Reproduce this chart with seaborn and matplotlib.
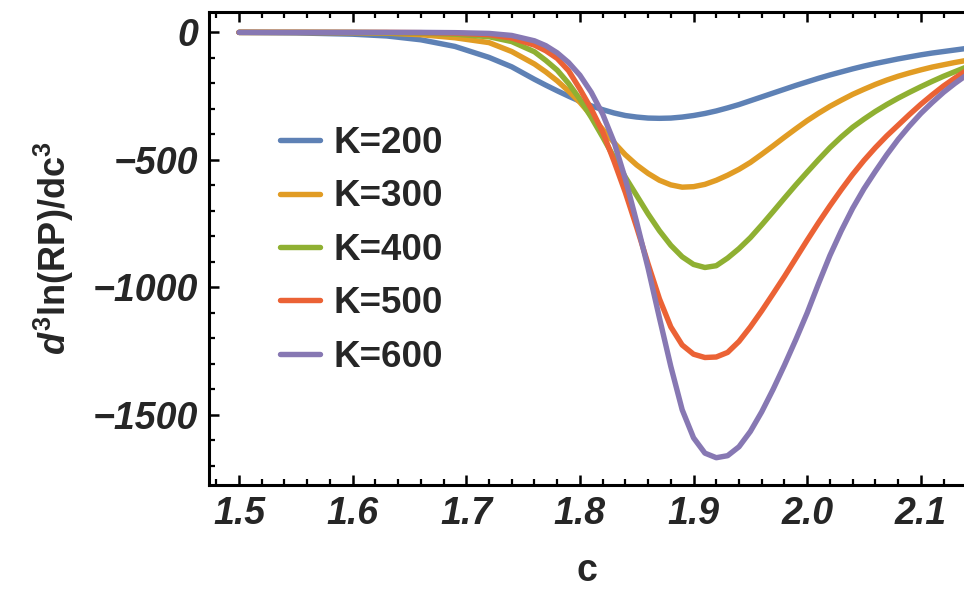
'''Third derivative of ln(RP) against c for several K values (Mathematica style look)'''

#====================================IMPORTS==================================
import pandas as pd
import matplotlib
matplotlib.use("Agg")
import matplotlib.pyplot as plt
from matplotlib.ticker import MultipleLocator
import seaborn as sns
#=================================================================================

#c values the curves were read at (denser near the dip)
c_vals = [1.50, 1.55, 1.60, 1.63, 1.66, 1.69, 1.72, 1.74, 1.76,
          1.77, 1.78, 1.79, 1.80, 1.81, 1.82, 1.83, 1.84, 1.85, 1.86, 1.87, 1.88,
          1.89, 1.90, 1.91, 1.92, 1.93, 1.94, 1.95, 1.96, 1.97, 1.98, 1.99, 2.00,
          2.01, 2.02, 2.03, 2.04, 2.05, 2.06, 2.07, 2.08, 2.09, 2.10, 2.11, 2.12,
          2.13, 2.14]

#d3 ln(RP)/dc3 for each K
k200 = [0, -2, -7, -14, -29, -55, -98, -135, -184,
        -207, -229, -250, -270, -288, -303, -316, -326, -332, -336, -337, -336,
        -332, -326, -318, -308, -296, -283, -268, -253, -238, -223, -208, -194,
        -180, -167, -155, -143, -132, -122, -113, -104, -96, -88, -81, -75,
        -69, -63]
k300 = [0, 0, -1, -3, -9, -21, -40, -75, -124,
        -155, -190, -230, -274, -326, -380, -432, -480, -520, -553, -580, -598,
        -607, -605, -596, -580, -560, -537, -510, -478, -445, -411, -378, -346,
        -317, -290, -266, -243, -223, -204, -187, -172, -159, -147, -136, -127,
        -118, -110]
k400 = [0, 0, 0, -1, -3, -7, -17, -36, -76,
        -110, -148, -200, -262, -333, -410, -490, -568, -640, -712, -778, -835,
        -880, -910, -922, -915, -885, -848, -805, -755, -703, -650, -598, -548,
        -499, -452, -410, -372, -340, -310, -283, -258, -235, -213, -192, -172,
        -154, -136]
k500 = [0, 0, 0, 0, -1, -3, -9, -22, -50,
        -72, -102, -150, -222, -300, -390, -505, -628, -765, -908, -1045, -1155,
        -1226, -1262, -1275, -1273, -1255, -1212, -1155, -1092, -1025, -957, -886, -815,
        -746, -680, -617, -557, -502, -452, -406, -364, -322, -282, -245, -210,
        -179, -150]
k600 = [0, 0, 0, 0, 0, -1, -4, -12, -33,
        -52, -80, -118, -168, -235, -320, -430, -575, -745, -925, -1120, -1310,
        -1480, -1590, -1650, -1668, -1660, -1625, -1565, -1488, -1400, -1305, -1205, -1100,
        -985, -875, -778, -690, -613, -545, -480, -420, -367, -318, -275, -235,
        -200, -168]

k_labels = ['K=200', 'K=300', 'K=400', 'K=500', 'K=600']
#Mathematica default plot colours
k_colors = ['#5E81B5', '#E19C24', '#8FB032', '#EB6235', '#8778B3']

x_ticks = [1.5, 1.6, 1.7, 1.8, 1.9, 2.0, 2.1]
x_tick_labels = ['1.5', '1.6', '1.7', '1.8', '1.9', '2.0', '2.1']
y_ticks = [0, -500, -1000, -1500]
y_tick_labels = ['0', '\u2212500', '\u22121000', '\u22121500']

#===================================== FUNCTIONS =================================

def build_frame():
    #long form dataframe so seaborn can colour by K
    rows = []
    for label, vals in zip(k_labels, [k200, k300, k400, k500, k600]):
        rows.append(pd.DataFrame({'c': c_vals, 'val': vals, 'K': label}))
    return pd.concat(rows, ignore_index=True)

#=================================================================================

def make_plot(df):
    sns.set_theme(style="ticks")
    #fonts have to go after set_theme
    plt.rcParams['font.family'] = ['Liberation Sans', 'DejaVu Sans']
    plt.rcParams['mathtext.fontset'] = 'custom'
    plt.rcParams['mathtext.rm'] = 'Liberation Sans:bold'
    plt.rcParams['mathtext.it'] = 'Liberation Sans:italic:bold'
    plt.rcParams['mathtext.bf'] = 'Liberation Sans:bold'
    plt.rcParams['axes.unicode_minus'] = False

    fig = plt.figure(figsize=(9.64, 5.91), dpi=100)
    ax = fig.add_axes([209/964, 106/591, 755/964, 473/591])

    sns.lineplot(data=df, x='c', y='val', hue='K', hue_order=k_labels,
                 palette=k_colors, linewidth=3.9, ax=ax, sort=False)

    ax.set_xlim(1.4736, 2.138)
    ax.set_ylim(-1775, 80)

    #frame: left, bottom, top (right side is cut off in the original)
    ax.spines['right'].set_visible(False)
    for s in ['left', 'bottom', 'top']:
        ax.spines[s].set_linewidth(2.2)
        ax.spines[s].set_color('black')

    ax.set_xticks(x_ticks)
    ax.set_xticklabels(x_tick_labels, fontsize=27, fontweight='bold', fontstyle='italic')
    ax.set_yticks(y_ticks)
    ax.set_yticklabels(y_tick_labels, fontsize=27, fontweight='bold', fontstyle='italic')
    ax.xaxis.set_minor_locator(MultipleLocator(0.02))
    ax.yaxis.set_minor_locator(MultipleLocator(100))
    ax.tick_params(which='both', direction='in', top=True, right=False, color='black')
    ax.tick_params(which='major', length=7, width=1.8, pad=8)
    ax.tick_params(which='minor', length=4, width=1.6)

    ax.set_xlabel('c', fontsize=27, fontweight='bold', labelpad=15)
    ax.set_ylabel(r'$d^{3}$ln(RP)/dc$^{3}$', fontsize=26, fontweight='bold', labelpad=12)

    handles, labels = ax.get_legend_handles_labels()
    ax.legend(handles, labels, loc='upper left', bbox_to_anchor=(280/964, 1 - 126/591),
              bbox_transform=fig.transFigure, frameon=False, prop={'size': 26.5, 'weight': 'bold'},
              handlelength=1.1, handletextpad=0.35, labelspacing=0.5,
              borderpad=0, borderaxespad=0)

    fig.savefig('out.png', dpi=100)

#=================================================================================

def main():
    df = build_frame()
    make_plot(df)

if __name__ == "__main__":
    main()
